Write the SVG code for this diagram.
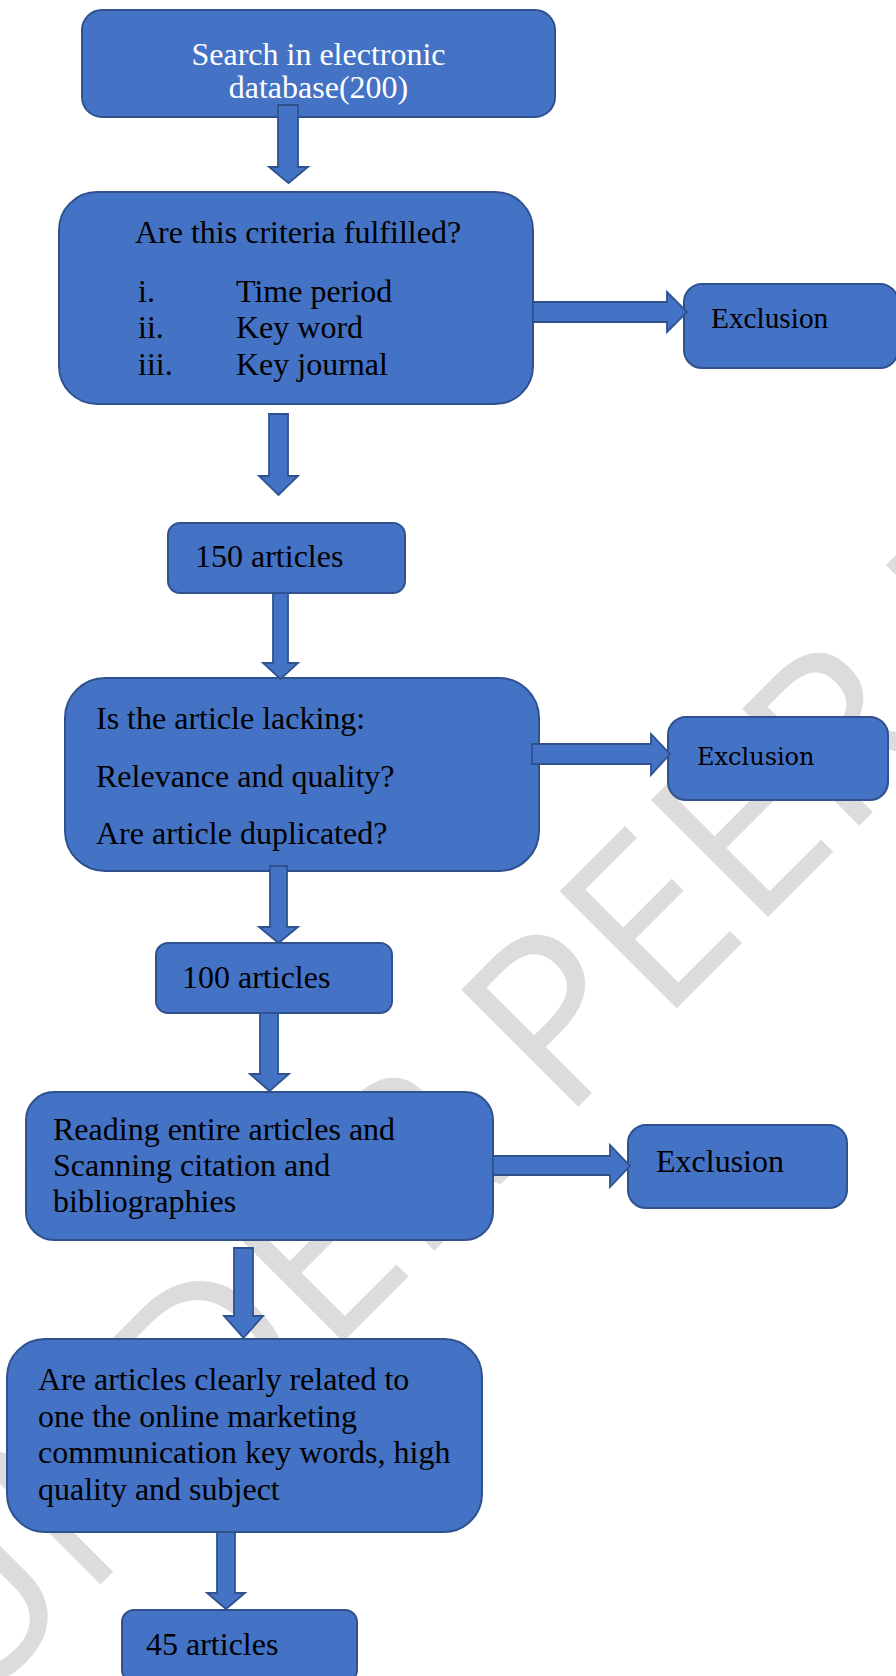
<svg xmlns="http://www.w3.org/2000/svg" width="896" height="1676" viewBox="0 0 896 1676">
<style>
.box{fill:#4472C4;stroke:#2F528F;stroke-width:2}
.arr{fill:#4472C4;stroke:#2F528F;stroke-width:1.8;stroke-linejoin:miter}
.t{font-family:"Liberation Serif","Times New Roman",serif;font-size:32px;fill:#000}
.w{fill:#fff}
.ex2{font-family:"DejaVu Serif",serif;font-size:24px;fill:#000}
.wm{font-family:"Open Sans","Liberation Sans",sans-serif;font-size:232px;fill:#DCDCDC}
</style>
<rect width="896" height="1676" fill="#fff"/>
<g id="watermark">
<text class="wm" transform="translate(-35,1720) rotate(-45)">UNDER PEER REVIEW</text>
</g>
<g id="n1"><rect class="box" x="82" y="10" width="473" height="107" rx="20"/>
<text class="t w" x="318.5" y="65" text-anchor="middle">Search in electronic</text>
<text class="t w" x="318.5" y="98" text-anchor="middle">database(200)</text></g>
<g id="n2"><rect class="box" x="59" y="192" width="474" height="212" rx="38"/>
<text class="t" x="135" y="243">Are this criteria fulfilled?</text>
<text class="t" x="138" y="302">i.</text><text class="t" x="236" y="302">Time period</text>
<text class="t" x="138" y="338">ii.</text><text class="t" x="236" y="338">Key word</text>
<text class="t" x="138" y="375">iii.</text><text class="t" x="236" y="375">Key journal</text></g>
<g id="ex1"><rect class="box" x="684" y="284" width="214" height="84" rx="18"/>
<text class="t" x="711" y="328" style="font-size:29.3px">Exclusion</text></g>
<g id="n3"><rect class="box" x="168" y="523" width="237" height="70" rx="12"/>
<text class="t" x="195" y="567">150 articles</text></g>
<g id="n4"><rect class="box" x="65" y="678" width="474" height="193" rx="40"/>
<text class="t" x="96" y="729">Is the article lacking:</text>
<text class="t" x="96" y="787">Relevance and quality?</text>
<text class="t" x="96" y="844">Are article duplicated?</text></g>
<g id="ex2"><rect class="box" x="668" y="717" width="220" height="83" rx="18"/>
<text class="ex2" x="697" y="765">Exclusion</text></g>
<g id="n5"><rect class="box" x="156" y="943" width="236" height="70" rx="12"/>
<text class="t" x="182" y="988">100 articles</text></g>
<g id="n6"><rect class="box" x="26" y="1092" width="467" height="148" rx="28"/>
<text class="t" x="53" y="1140">Reading entire articles and</text>
<text class="t" x="53" y="1176">Scanning citation and</text>
<text class="t" x="53" y="1212">bibliographies</text></g>
<g id="ex3"><rect class="box" x="628" y="1125" width="219" height="83" rx="18"/>
<text class="t" x="656" y="1172">Exclusion</text></g>
<g id="n7"><rect class="box" x="7" y="1339" width="475" height="193" rx="38"/>
<text class="t" x="38" y="1390">Are articles clearly related to</text>
<text class="t" x="38" y="1427">one the online marketing</text>
<text class="t" x="38" y="1463">communication key words, high</text>
<text class="t" x="38" y="1500">quality and subject</text></g>
<g id="n8"><rect class="box" x="122" y="1610" width="235" height="72" rx="12"/>
<text class="t" x="146" y="1655">45 articles</text></g>
<g id="connectors">
<polygon class="arr" points="278,105 298,105 298,167 308,167 288.5,183 269,167 278,167"/>
<polygon class="arr" points="269,414 288,414 288,476 298,476 278.5,495 259,476 269,476"/>
<polygon class="arr" points="273,593 288,593 288,663 298,663 280.5,679 263,663 273,663"/>
<polygon class="arr" points="270,866 287,866 287,927 298,927 278.5,943 259,927 270,927"/>
<polygon class="arr" points="260,1013 278,1013 278,1074 289,1074 269.5,1091 250,1074 260,1074"/>
<polygon class="arr" points="234,1248 253,1248 253,1316 263,1316 243.5,1338 224,1316 234,1316"/>
<polygon class="arr" points="217,1532 235,1532 235,1593 245,1593 226,1609 207,1593 217,1593"/>
<polygon class="arr" points="533,302 667,302 667,292 687,312 667,332 667,322 533,322"/>
<polygon class="arr" points="532,744 651,744 651,734 670,754 651,775 651,764 532,764"/>
<polygon class="arr" points="493,1156 610,1156 610,1145 630,1166 610,1187 610,1175 493,1175"/>
</g>
</svg>
